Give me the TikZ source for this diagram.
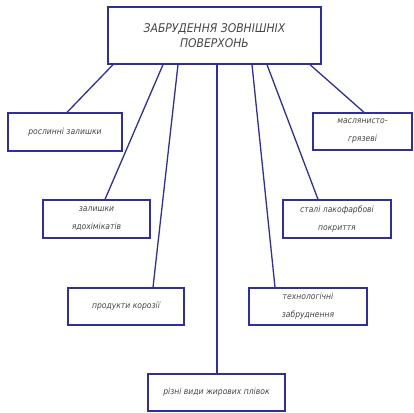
\documentclass[tikz,border=0pt]{standalone}
\usepackage{fontspec}
\setmainfont{DejaVu Sans Condensed}
\definecolor{liniya}{HTML}{2E2E9E}
\definecolor{tekst}{HTML}{454545}
\tikzset{
  blok/.style={draw=liniya, line width=1.3pt, inner sep=2pt, align=center,
    text=tekst, font=\itshape\fontsize{8.5}{18}\selectfont},
  golov/.style={blok, font=\itshape\fontsize{12}{15}\selectfont},
  zv/.style={draw=liniya, line width=1.3pt}
}
\begin{document}
\begin{tikzpicture}[x=1pt,y=-1pt]
    \useasboundingbox (0,0) rectangle (414,412);
    \node[golov, minimum width=213pt, minimum height=57pt] (Z) at (214.5,35.5) {ЗАБРУДЕННЯ ЗОВНІШНІХ\\ПОВЕРХОНЬ};
    \node[blok, minimum width=114pt, minimum height=38pt] (R) at (65,132) {рослинні залишки};
    \node[blok, minimum width=107pt, minimum height=38pt] (Ya) at (96.5,219) {залишки\\ядохімікатів};
    \node[blok, minimum width=116pt, minimum height=37pt] (K) at (126,306.5) {продукти корозії};
    \node[blok, minimum width=137pt, minimum height=37pt] (Zh) at (216.5,392.5) {різні види жирових плівок};
    \node[blok, minimum width=118pt, minimum height=37pt] (T) at (308,306.5) {технологічні\\забруднення};
    \node[blok, minimum width=108pt, minimum height=38pt] (L) at (337,219) {сталі лакофарбові\\покриття};
    \node[blok, minimum width=99pt, minimum height=37pt] (M) at (362.5,131.5) {маслянисто-\\грязеві};
    \draw[zv] ([xshift=-101.5pt]Z.south) -- ([xshift=2pt]R.north);
    \draw[zv] ([xshift=-51.5pt]Z.south) -- ([xshift=8.5pt]Ya.north);
    \draw[zv] ([xshift=-36.5pt]Z.south) -- ([xshift=27pt]K.north);
    \draw[zv] ([xshift=2.5pt]Z.south) -- ([xshift=0.5pt]Zh.north);
    \draw[zv] ([xshift=37.5pt]Z.south) -- ([xshift=-33pt]T.north);
    \draw[zv] ([xshift=52.5pt]Z.south) -- ([xshift=-19pt]L.north);
    \draw[zv] ([xshift=95.5pt]Z.south) -- ([xshift=1.5pt]M.north);
\end{tikzpicture}
\end{document}
